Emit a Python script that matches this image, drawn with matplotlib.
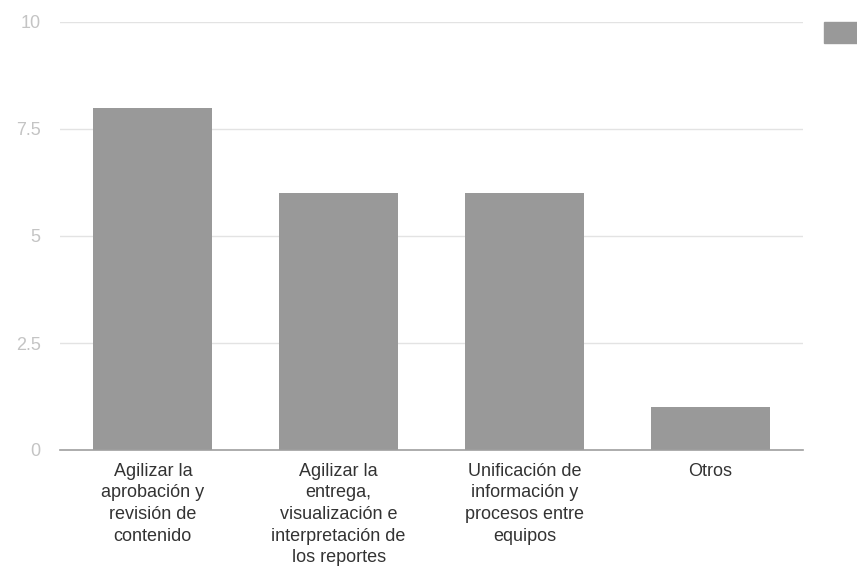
import matplotlib
matplotlib.use("Agg")
import matplotlib.pyplot as plt
from matplotlib.patches import Rectangle

categories = [
    "Agilizar la\naprobación y\nrevisión de\ncontenido",
    "Agilizar la\nentrega,\nvisualización e\ninterpretación de\nlos reportes",
    "Unificación de\ninformación y\nprocesos entre\nequipos",
    "Otros",
]
values = [8, 6, 6, 1]
y_ticks = [0, 2.5, 5, 7.5, 10]
y_tick_labels = ["0", "2.5", "5", "7.5", "10"]

W, H = 857, 576
fig = plt.figure(figsize=(W / 100, H / 100), dpi=100)
ax = fig.add_axes([60 / W, 1 - 450 / H, (803 - 60) / W, (450 - 22) / H])

fam = ["Liberation Sans", "DejaVu Sans"]
bar_color = "#999999"
x = list(range(len(categories)))
ax.bar(x, values, width=0.64, color=bar_color, zorder=2)

ax.set_xlim(-0.5, len(categories) - 0.5)
ax.set_ylim(0, 10)
ax.set_yticks(y_ticks)
ax.set_yticklabels(y_tick_labels, color="#c4c4c4", fontsize=13, family=fam)
ax.tick_params(axis="y", length=0, pad=14)
ax.set_xticks(x)
ax.set_xticklabels(categories, fontsize=13, color="#333333", family=fam,
                   linespacing=1.36, va="top")
ax.tick_params(axis="x", length=0, pad=9)

for y in y_ticks[1:]:
    ax.axhline(y, color="#e3e3e3", linewidth=1, zorder=1)

for s in ["top", "right", "left"]:
    ax.spines[s].set_visible(False)
ax.spines["bottom"].set_color("#9e9e9e")
ax.spines["bottom"].set_linewidth(1.2)
ax.spines["bottom"].set_zorder(3)

# legend swatch (clipped by the right edge)
fig.patches.append(Rectangle((824 / W, 1 - 43 / H), 40 / W, 21 / H,
                             transform=fig.transFigure, color=bar_color))

fig.savefig("out.png", dpi=100)
